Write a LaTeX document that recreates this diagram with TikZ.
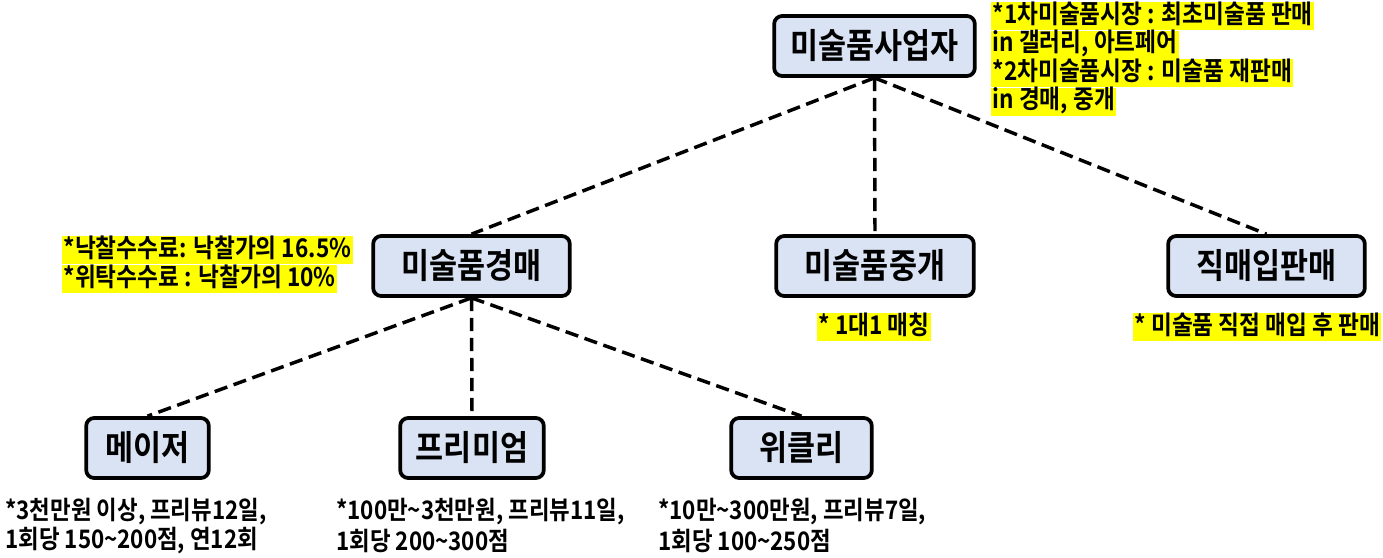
\documentclass[tikz,border=0pt]{standalone}
\usepackage{fontspec}
\setmainfont{Noto Sans CJK KR}[BoldFont={Noto Sans CJK KR Bold}, BoldFeatures={FakeStretch=0.88}]
\definecolor{boxblue}{RGB}{218,227,243}
\definecolor{hl}{RGB}{255,255,0}
\begin{document}
\begin{tikzpicture}[x=0.75pt,y=-0.75pt,
  box/.style={draw=black, line width=2.8pt, rounded corners=6pt, fill=boxblue,
    minimum height=45pt, inner sep=0pt, font=\bfseries\fontsize{26}{30}\selectfont},
  link/.style={line width=2.6pt, dash pattern=on 10pt off 5pt},
  note/.style={fill=hl, anchor=west, inner xsep=1pt, inner ysep=0pt, minimum height=21pt,
    text height=15pt, text depth=4pt, font=\bfseries\fontsize{19.3}{22}\selectfont},
  plain/.style={anchor=west, inner xsep=0pt, inner ysep=0pt, minimum height=21pt,
    font=\bfseries\fontsize{19.1}{22}\selectfont}]
\useasboundingbox[fill=white] (0,0) rectangle (1383,557);
% boxes
\node[box, minimum width=150.5pt] (top) at (874.5,46) {미술품사업자};
\node[box, minimum width=147.5pt] (auc) at (471.5,266) {미술품경매};
\node[box, minimum width=148.25pt] (bro) at (875,266) {미술품중개};
\node[box, minimum width=147.5pt] (dir) at (1266.5,266) {직매입판매};
\node[box, minimum width=92pt] (maj) at (147.5,448) {메이저};
\node[box, minimum width=107.75pt] (pre) at (472,448) {프리미엄};
\node[box, minimum width=105.5pt] (wee) at (801.5,448) {위클리};
% connectors
\draw[link] (top.south) -- (auc.north);
\draw[link] (top.south) -- (bro.north);
\draw[link] (top.south) -- (dir.north);
\draw[link] (auc.south) -- (maj.north);
\draw[link] (auc.south) -- (pre.north);
\draw[link] (auc.south) -- (wee.north);
% notes
\node[note] (n1) at (991,16) {*1차미술품시장 : 최초미술품 판매};
\node[note] (n2) at (991,44.5) {in 갤러리, 아트페어};
\node[note] (n3) at (991,73) {*2차미술품시장 : 미술품 재판매};
\node[note] (n4) at (991,101.5) {in 경매, 중개};
\node[note] (f1) at (62,250) {*낙찰수수료: 낙찰가의 16.5\%};
\node[note] (f2) at (62,279) {*위탁수수료 : 낙찰가의 10\%};
\node[note] (b1) at (817,327) {* 1대1 매칭};
\node[note] (d1) at (1133,327) {* 미술품 직접 매입 후 판매};
\node[plain] (m1) at (5,512) {*3천만원 이상, 프리뷰12일,};
\node[plain] (m2) at (5,541) {1회당 150\textasciitilde 200점, 연12회};
\node[plain] (p1) at (336,512) {*100만\textasciitilde 3천만원, 프리뷰11일,};
\node[plain] (p2) at (336,541) {1회당 200\textasciitilde 300점};
\node[plain] (w1) at (658,512) {*10만\textasciitilde 300만원, 프리뷰7일,};
\node[plain] (w2) at (658,541) {1회당 100\textasciitilde 250점};
\end{tikzpicture}
\end{document}
